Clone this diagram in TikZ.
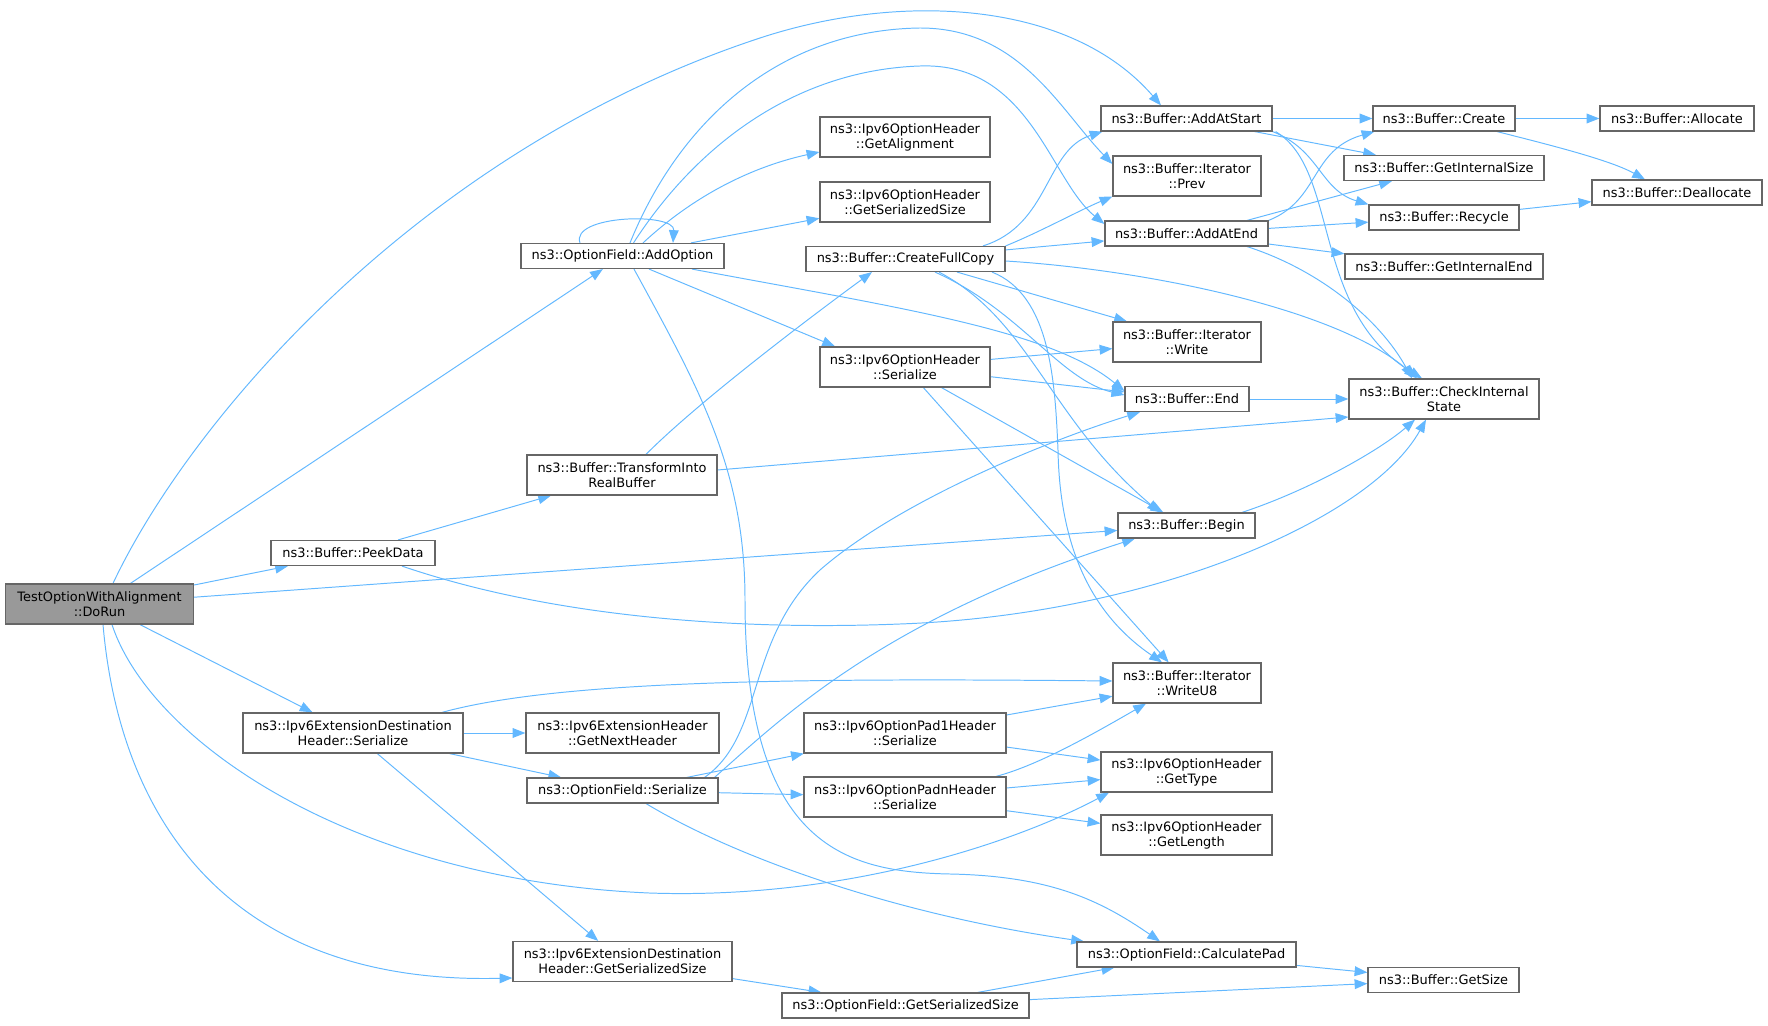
\documentclass[tikz,border=0pt]{standalone}
\usepackage{fontspec}
\setmainfont{DejaVu Sans}
\usepackage{tikz}
\usepackage{xcolor}
\usetikzlibrary{arrows.meta}
\usetikzlibrary{calc}
\usetikzlibrary{backgrounds}

\definecolor{edgeblue}{HTML}{63B8FF}
\definecolor{boxgray}{HTML}{666666}
\definecolor{rootgray}{HTML}{999999}

\tikzset{
  fn/.style={draw=boxgray, line width=0.8pt, fill=white, align=center,
    inner sep=1.5pt, minimum height=16.6pt, font=\fontsize{8.6}{10}\selectfont},
  fn2/.style={fn, minimum height=26.6pt},
  wd/.style={minimum width=#1*0.665pt},
  call/.style={draw=edgeblue, line width=0.65pt, -{Triangle[length=8.5pt,width=6.5pt]}}
}

\begin{document}
\begin{tikzpicture}[x=0.665pt, y=-0.665pt]
  \useasboundingbox (0,0) rectangle (1768,1026);

%%%%%%%%%%%% Caller
  \node[fn2, wd=188, fill=rootgray] (dorun) at (99.5,604) {TestOptionWithAlignment\\::DoRun};

%%%%%%%%%%%% First column
  \node[fn, wd=203] (addopt) at (622.5,256) {ns3::OptionField::AddOption};
  \node[fn, wd=164] (peek) at (353,553) {ns3::Buffer::PeekData};
  \node[fn2, wd=220] (extser) at (353,733) {ns3::Ipv6ExtensionDestination\\Header::Serialize};
  \node[fn2, wd=219] (extgss) at (622.5,961.5) {ns3::Ipv6ExtensionDestination\\Header::GetSerializedSize};
  \node[fn2, wd=190] (tirb) at (622,475) {ns3::Buffer::TransformInto\\RealBuffer};
  \node[fn2, wd=193] (nexthdr) at (622.5,733) {ns3::Ipv6ExtensionHeader\\::GetNextHeader};
  \node[fn, wd=191] (ofser) at (622.5,790.5) {ns3::OptionField::Serialize};

%%%%%%%%%%%% Second column
  \node[fn2, wd=170] (getalign) at (905,137) {ns3::Ipv6OptionHeader\\::GetAlignment};
  \node[fn2, wd=170] (ohgss) at (905,202) {ns3::Ipv6OptionHeader\\::GetSerializedSize};
  \node[fn, wd=199] (fullcopy) at (905.5,259) {ns3::Buffer::CreateFullCopy};
  \node[fn2, wd=170] (ohser) at (905,367) {ns3::Ipv6OptionHeader\\::Serialize};
  \node[fn2, wd=202] (pad1) at (905,733) {ns3::Ipv6OptionPad1Header\\::Serialize};
  \node[fn2, wd=202] (padn) at (905,797) {ns3::Ipv6OptionPadnHeader\\::Serialize};
  \node[fn, wd=247] (ofgss) at (905.5,1005.5) {ns3::OptionField::GetSerializedSize};

%%%%%%%%%%%% Third column
  \node[fn, wd=171] (addstart) at (1186.5,118.5) {ns3::Buffer::AddAtStart};
  \node[fn2, wd=148] (prev) at (1187,176) {ns3::Buffer::Iterator\\::Prev};
  \node[fn, wd=163] (addend) at (1186.5,233.5) {ns3::Buffer::AddAtEnd};
  \node[fn2, wd=148] (write) at (1187,342) {ns3::Buffer::Iterator\\::Write};
  \node[fn, wd=124] (bufend) at (1187,399) {ns3::Buffer::End};
  \node[fn, wd=137] (bufbegin) at (1186.5,525.5) {ns3::Buffer::Begin};
  \node[fn2, wd=148] (writeu) at (1187,683) {ns3::Buffer::Iterator\\::WriteU8};
  \node[fn2, wd=171] (gettype) at (1186.5,772) {ns3::Ipv6OptionHeader\\::GetType};
  \node[fn2, wd=171] (getlen) at (1186.5,835) {ns3::Ipv6OptionHeader\\::GetLength};
  \node[fn, wd=219] (calcpad) at (1186.5,954.5) {ns3::OptionField::CalculatePad};

%%%%%%%%%%%% Fourth and fifth column
  \node[fn, wd=142] (create) at (1444,118.5) {ns3::Buffer::Create};
  \node[fn, wd=200] (intsize) at (1444,168) {ns3::Buffer::GetInternalSize};
  \node[fn, wd=150] (recycle) at (1444,217.5) {ns3::Buffer::Recycle};
  \node[fn, wd=198] (intend) at (1444,266.5) {ns3::Buffer::GetInternalEnd};
  \node[fn2, wd=190] (check) at (1444,399) {ns3::Buffer::CheckInternal\\State};
  \node[fn, wd=151] (getsize) at (1443.5,980) {ns3::Buffer::GetSize};
  \node[fn, wd=154] (alloc) at (1677,118.5) {ns3::Buffer::Allocate};
  \node[fn, wd=170] (dealloc) at (1677,192.5) {ns3::Buffer::Deallocate};

%%%%%%%%%%%% Calls
  \begin{scope}[on background layer]
    % straight calls
    \foreach \a/\b in {dorun/addopt, dorun/peek, dorun/bufbegin, dorun/extser,
        addopt/ohgss, peek/tirb, extser/nexthdr, extser/ofser, extser/extgss,
        ofser/pad1, ofser/padn, extgss/ofgss, ofgss/calcpad, ofgss/getsize,
        calcpad/getsize, pad1/writeu, pad1/gettype, padn/gettype, padn/getlen,
        ohser/write, ohser/bufend, ohser/bufbegin, ohser/writeu, fullcopy/addend,
        addstart/create, addstart/intsize, addend/recycle, addend/intend,
        create/alloc, recycle/dealloc, bufend/check}
      \draw[call] (\a) -- (\b);

    % from DoRun
    \draw[call] ($(dorun.north)+(13.5,0)$) .. controls (190,420) and (420,150) .. (760,38)
      .. controls (900,-8) and (1070,0) .. ($(addstart.north)+(-25.5,0)$);
    \draw[call] ($(dorun.south)+(12.5,0)$) .. controls (150,740) and (350,880) .. (649,893)
      .. controls (850,900) and (1020,840) .. ($(gettype.south)+(-77.5,0)$);
    \draw[call] ($(dorun.south)+(3.5,0)$) .. controls (120,820) and (230,985) .. ($(extgss.west)+(0,16.5)$);

    % from AddOption
    \draw[call] ($(addopt.north)+(-42.5,0)$) .. controls (570,215) and (675,212) .. ($(addopt.north)+(50.5,0)$);
    \draw[call] ($(addopt.north)+(7.5,0)$) .. controls (680,120) and (780,30) .. (920,28)
      .. controls (1020,28) and (1060,110) .. ($(prev.west)+(0,-12)$);
    \draw[call] ($(addopt.north)+(11,0)$) .. controls (700,140) and (800,70) .. (920,66)
      .. controls (1030,62) and (1050,180) .. ($(addend.west)+(0,-9.5)$);
    \draw[call] ($(addopt.north)+(20.5,0)$) .. controls (700,190) and (760,165) .. ($(getalign.west)+(0,15)$);
    \draw[call] ($(addopt.south)+(69.5,0)$) .. controls (900,308) and (1050,330) .. ($(bufend.west)+(0,-8)$);
    \draw[call] ($(addopt.south)+(26.5,0)$) -- ($(ohser.north)+(-70,0)$);
    \draw[call] ($(addopt.south)+(11.5,0)$) .. controls (700,390) and (745,470) .. (745,600)
      .. controls (745,850) and (850,872) .. (950,874)
      .. controls (1050,876) and (1100,900) .. ($(calcpad.north)+(-26.5,0)$);

    % from PeekData and TransformIntoRealBuffer
    \draw[call] ($(peek.south)+(49,0)$) .. controls (560,620) and (750,630) .. (900,624)
      .. controls (1150,615) and (1370,520) .. ($(check.south)+(-18,0)$);
    \draw[call] ($(tirb.north)+(24,0)$) .. controls (700,400) and (820,310) .. ($(fullcopy.south)+(-33.5,0)$);
    \draw[call] ($(tirb.east)+(0,-5)$) -- ($(check.west)+(0,18)$);

    % from the Serialize functions
    \draw[call] ($(extser.north)+(89,0)$) .. controls (560,680) and (800,678) .. ($(writeu.west)+(0,-2)$);
    \draw[call] ($(ofser.north)+(82,0)$) .. controls (765,735) and (745,640) .. (820,570)
      .. controls (900,500) and (1050,440) .. ($(bufend.south)+(-47,0)$);
    \draw[call] ($(ofser.north)+(92,0)$) .. controls (780,720) and (880,620) .. ($(bufbegin.south)+(-51.5,0)$);
    \draw[call] ($(ofser.south)+(23.5,0)$) .. controls (740,860) and (900,915) .. ($(calcpad.north)+(-102.5,0)$);
    \draw[call] ($(padn.north)+(91,0)$) .. controls (1040,765) and (1100,730) .. ($(writeu.south)+(-41,0)$);

    % from CreateFullCopy
    \draw[call] ($(fullcopy.north)+(77.5,0)$) .. controls (1050,225) and (1045,150) .. ($(addstart.south west)+(2,0)$);
    \draw[call] (fullcopy.north east) .. controls (1040,232) and (1080,210) .. (prev.south west);
    \draw[call] ($(fullcopy.east)+(0,2)$) .. controls (1150,270) and (1340,310) .. ($(check.north)+(-27,0)$);
    \draw[call] ($(fullcopy.south)+(51.5,0)$) -- ($(write.north)+(-60,0)$);
    \draw[call] ($(fullcopy.south)+(29.5,0)$) .. controls (1020,310) and (1060,380) .. ($(bufend.west)+(0,-4)$);
    \draw[call] ($(fullcopy.south)+(33.5,0)$) .. controls (1030,320) and (1050,420) .. ($(bufbegin.north)+(-26.5,0)$);
    \draw[call] ($(fullcopy.south)+(86.5,0)$) .. controls (1050,295) and (1055,380) .. (1058,450)
      .. controls (1060,560) and (1100,620) .. ($(writeu.north)+(-25,0)$);

    % from AddAtStart and AddAtEnd
    \draw[call] (addstart.south east) .. controls (1320,150) and (1320,190) .. (recycle.north west);
    \draw[call] ($(addstart.south east)+(3,0)$) .. controls (1340,170) and (1310,310) .. ($(check.north)+(-22,0)$);
    \draw[call] (addend.north east) .. controls (1320,200) and (1310,150) .. ($(create.south west)+(2,0)$);
    \draw[call] ($(addend.north)+(60.5,0)$) -- ($(intsize.south)+(-52,0)$);
    \draw[call] ($(addend.south)+(60.5,0)$) .. controls (1320,270) and (1380,320) .. ($(check.north)+(-32,0)$);

    % from Create and Begin
    \draw[call] ($(create.south)+(53,0)$) .. controls (1550,145) and (1610,160) .. ($(dealloc.north)+(-32,0)$);
    \draw[call] ($(bufbegin.north)+(55.5,0)$) .. controls (1310,490) and (1380,450) .. ($(check.south)+(-29,0)$);
  \end{scope}
\end{tikzpicture}
\end{document}
